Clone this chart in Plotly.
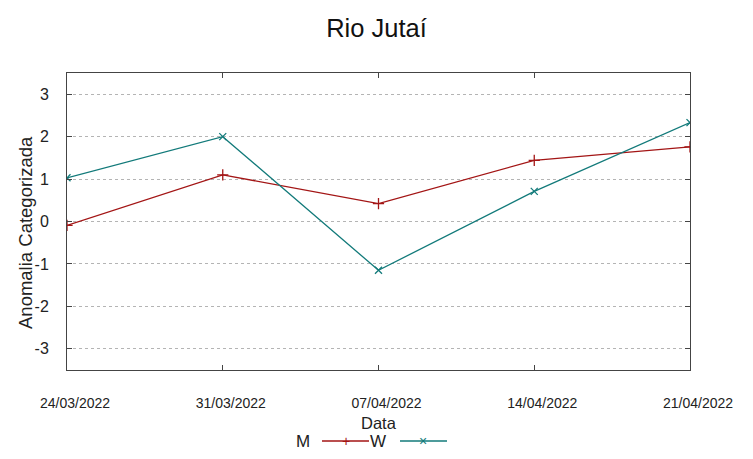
import plotly.graph_objects as go

dates = ["24/03/2022", "31/03/2022", "07/04/2022", "14/04/2022", "21/04/2022"]
m_values = [-0.09, 1.10, 0.42, 1.44, 1.76]
w_values = [1.03, 2.00, -1.15, 0.71, 2.33]
y_ticks = [-3, -2, -1, 0, 1, 2, 3]
y_tick_text = ["-3", "-2", "-1", "0", "1", "2", "3"]

RED = "#a31515"
TEAL = "#127a7a"
W, H = 753, 459
L, R, T, B = 67, 63, 73, 89

fig = go.Figure()
fig.add_trace(go.Scatter(x=dates, y=m_values, mode="lines+markers", name="M",
                         line=dict(color=RED, width=1.3),
                         marker=dict(symbol="cross-thin", size=8, line=dict(color=RED, width=1.3))))
fig.add_trace(go.Scatter(x=dates, y=w_values, mode="lines+markers", name="W",
                         line=dict(color=TEAL, width=1.3),
                         marker=dict(symbol="x-thin", size=7, line=dict(color=TEAL, width=1.3))))

def px_to_paper_x(px):
    return (px - L) / (W - L - R)

def px_to_paper_y(py):
    return (H - B - py) / (H - T - B)

font_main = "Liberation Sans, Arial, sans-serif"
ly = px_to_paper_y(441)
shapes = [
    dict(type="line", xref="paper", yref="paper", x0=px_to_paper_x(322), x1=px_to_paper_x(369),
         y0=ly, y1=ly, line=dict(color=RED, width=1.3)),
    dict(type="line", xref="paper", yref="paper", x0=px_to_paper_x(400), x1=px_to_paper_x(447),
         y0=ly, y1=ly, line=dict(color=TEAL, width=1.3)),
]
annotations = [
    dict(text="M", xref="paper", yref="paper", x=px_to_paper_x(303), y=ly, showarrow=False,
         font=dict(size=17, color="#222", family=font_main), xanchor="center", yanchor="middle"),
    dict(text="W", xref="paper", yref="paper", x=px_to_paper_x(378), y=ly, showarrow=False,
         font=dict(size=17, color="#222", family=font_main), xanchor="center", yanchor="middle"),
    dict(text="+", xref="paper", yref="paper", x=px_to_paper_x(346), y=ly, showarrow=False,
         font=dict(size=14, color=RED, family=font_main), xanchor="center", yanchor="middle"),
    dict(text="×", xref="paper", yref="paper", x=px_to_paper_x(423), y=ly, showarrow=False,
         font=dict(size=14, color=TEAL, family=font_main), xanchor="center", yanchor="middle"),
    dict(text="Data", xref="paper", yref="paper", x=0.5, y=px_to_paper_y(423), showarrow=False,
         font=dict(size=16.5, color="#222", family=font_main), xanchor="center", yanchor="middle"),
    dict(text="Anomalia Categorizada", xref="paper", yref="paper", x=px_to_paper_x(25),
         y=px_to_paper_y(233), showarrow=False, textangle=-90,
         font=dict(size=18.5, color="#222", family=font_main), xanchor="center", yanchor="middle"),
]

fig.update_layout(
    width=W, height=H,
    margin=dict(l=L, r=R, t=T, b=B),
    paper_bgcolor="white", plot_bgcolor="white",
    showlegend=False,
    title=dict(text="Rio Jutaí", x=0.5, xanchor="center", y=1 - 28 / H, yanchor="middle",
               font=dict(size=25.5, color="#111", family=font_main)),
    shapes=shapes, annotations=annotations,
    font=dict(family=font_main, color="#222"),
)
fig.update_xaxes(
    type="category", categoryorder="array", categoryarray=dates,
    range=[0, len(dates) - 1], automargin=False,
    showgrid=False, zeroline=False,
    showline=True, linecolor="#444", linewidth=1, mirror="ticks",
    ticks="inside", ticklen=5, tickcolor="#444",
    ticklabelstandoff=20, ticklabelshift=8,
    tickfont=dict(size=14, family=font_main, color="#222"),
)
fig.update_yaxes(
    range=[-3.5, 3.5], tickvals=y_ticks, ticktext=y_tick_text, automargin=False,
    showgrid=True, gridcolor="#b4b4b4", griddash="dot", gridwidth=1,
    zeroline=False,
    showline=True, linecolor="#444", linewidth=1, mirror="ticks",
    ticks="inside", ticklen=5, tickcolor="#444",
    ticklabelstandoff=14,
    tickfont=dict(size=16, family=font_main, color="#222"),
)

fig.write_html("out.html", post_script="document.body.style.margin='0';",
               config={"displayModeBar": False})
